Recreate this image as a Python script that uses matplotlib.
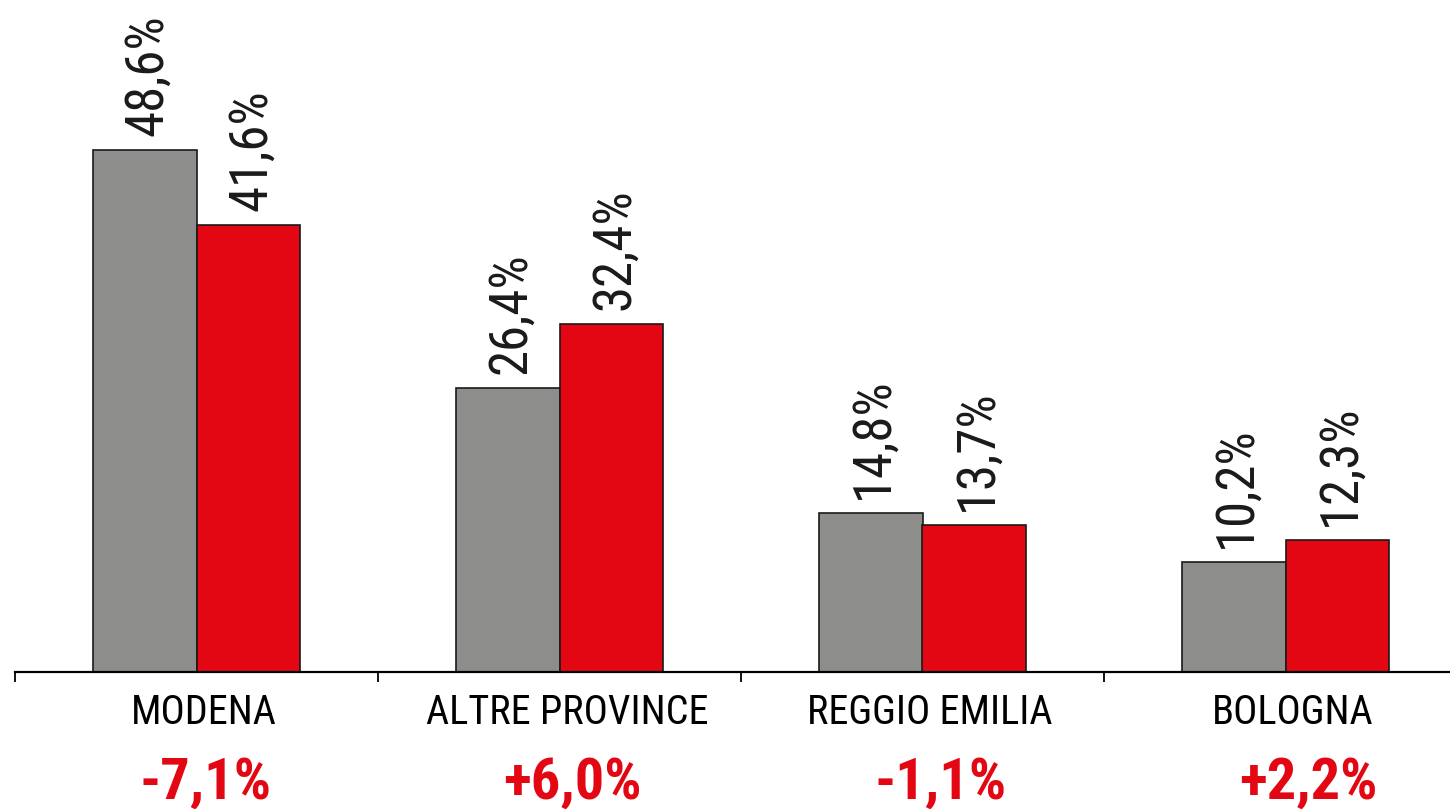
import matplotlib.pyplot as plt
import matplotlib.transforms as mtransforms
from matplotlib import font_manager
import numpy as np

categories = ["MODENA", "ALTRE PROVINCE", "REGGIO EMILIA", "BOLOGNA"]
prev_share = [48.6, 26.4, 14.8, 10.2]
curr_share = [41.6, 32.4, 13.7, 12.3]
changes = ["-7,1%", "+6,0%", "-1,1%", "+2,2%"]

GRAY = "#8D8D8C"
RED = "#E30613"

# prefer a condensed face, as in the original
installed = {f.name for f in font_manager.fontManager.ttflist}
narrow = [n for n in ["Roboto Condensed", "Liberation Sans Narrow", "Open Sans Condensed"]
          if n in installed]
if narrow:
    plt.rcParams['font.family'] = [narrow[0], 'DejaVu Sans']
    sz_val, sz_cat, sz_chg = 38, 29, 42
else:
    plt.rcParams['font.family'] = ['Liberation Sans', 'DejaVu Sans']
    sz_val, sz_cat, sz_chg = 32, 24, 36

fig = plt.figure(figsize=(14.5, 8.09), dpi=100)
ax = fig.add_axes([15 / 1450, 137 / 809, 1452 / 1450, 672 / 809])

x = np.arange(len(categories))
w = 0.286
ax.bar(x - w / 2, prev_share, w, color=GRAY, edgecolor="#1a1a1a", linewidth=1.2)
ax.bar(x + w / 2, curr_share, w, color=RED, edgecolor="#1a1a1a", linewidth=1.2)

def fmt(v):
    return f"{v:.1f}%".replace(".", ",")

for xi, v in zip(x - w / 2, prev_share):
    ax.annotate(fmt(v), (xi, v), xytext=(2, 10), textcoords="offset points",
                rotation=90, ha="center", va="bottom", fontsize=sz_val, color="#1a1a1a")
for xi, v in zip(x + w / 2, curr_share):
    ax.annotate(fmt(v), (xi, v), xytext=(2, 10), textcoords="offset points",
                rotation=90, ha="center", va="bottom", fontsize=sz_val, color="#1a1a1a")

ax.set_xlim(-0.5, len(categories) - 0.5)
ax.set_ylim(0, 672 / 10.75)

for s in ["top", "right", "left"]:
    ax.spines[s].set_visible(False)
ax.spines["bottom"].set_linewidth(1.6)
ax.set_yticks([])
ax.set_xticks(np.arange(len(categories) + 1) - 0.5)
ax.set_xticklabels([])
ax.tick_params(axis="x", direction="out", length=7.5, width=1.3)

trans = mtransforms.blended_transform_factory(ax.transData, fig.transFigure)
for i, (xi, name, ch) in enumerate(zip(x, categories, changes)):
    ax.text(xi + 0.02, 1 - 712 / 809, name, transform=trans, ha="center", va="center",
            fontsize=sz_cat, color="black", clip_on=False)
    ax.text(xi + 0.024 + 0.013 * i, 1 - 783 / 809, ch, transform=trans, ha="center",
            va="center", fontsize=sz_chg, fontweight="bold", color=RED, clip_on=False)

fig.savefig("out.png", dpi=100)
